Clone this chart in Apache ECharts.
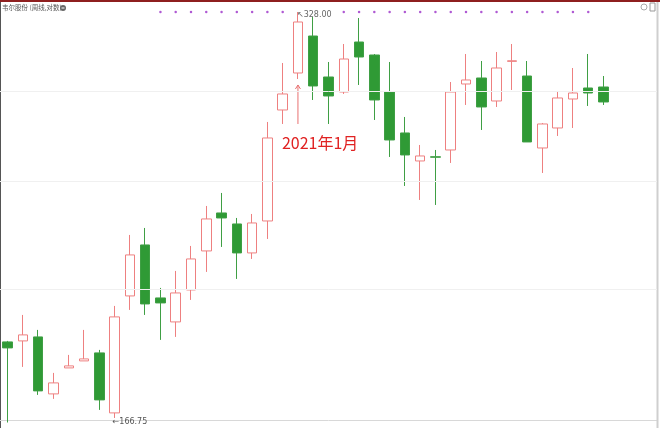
<!DOCTYPE html>
<html>
<head>
<meta charset="utf-8">
<script src="https://cdn.jsdelivr.net/npm/echarts@6/dist/echarts.min.js"></script>
<style>
html,body{margin:0;padding:0;background:#fff;}
#c{width:660px;height:428px;}
</style>
</head>
<body>
<div id="c"></div>
<script>
// ---- data (weekly candles, log scale) ----
const categories = ['2020-08-28','2020-09-04','2020-09-11','2020-09-18','2020-09-25','2020-10-02','2020-10-09','2020-10-16','2020-10-23','2020-10-30',
  '2020-11-06','2020-11-13','2020-11-20','2020-11-27','2020-12-04','2020-12-11','2020-12-18','2020-12-25','2021-01-01','2021-01-08',
  '2021-01-15','2021-01-22','2021-01-29','2021-02-05','2021-02-12','2021-02-19','2021-02-26','2021-03-05','2021-03-12','2021-03-19',
  '2021-03-26','2021-04-02','2021-04-09','2021-04-16','2021-04-23','2021-04-30','2021-05-07','2021-05-14','2021-05-21','2021-05-28','','',''];
const openPrices  = [189.29,189.60,190.87,173.58,181.26,183.39,185.85,168.17,204.36,222.48,
  203.68,195.70,206.41,220.27,234.66,230.40,219.54,231.55,278.59,296.30,
  315.14,294.33,287.07,312.00,305.32,287.07,268.12,255.90,257.70,260.63,
  290.92,293.84,282.80,302.10,294.82,261.50,270.36,283.74,288.99,289.47];
const closePrices = [187.40,191.51,174.45,176.79,181.87,184.00,171.85,197.34,218.81,201.65,
  201.99,205.38,217.35,232.33,232.71,219.54,230.78,265.89,286.12,322.58,
  289.96,285.17,303.29,304.30,283.27,265.01,258.47,258.04,257.50,287.07,
  292.87,279.99,298.78,302.40,264.13,272.17,284.22,286.59,286.59,282.33];
const lowPrices   = [165.50,181.56,173.29,172.14,181.26,183.39,169.01,166.75,199.65,197.99,
  189.92,190.87,203.00,212.70,221.74,210.23,217.35,224.71,272.17,293.35,
  283.27,272.17,286.12,290.44,273.99,257.61,245.46,239.80,237.81,255.05,
  280.92,269.46,279.99,288.03,264.13,250.83,266.78,270.36,280.46,280.92];
const highPrices  = [189.60,197.99,193.11,179.76,185.23,193.11,186.78,200.98,226.22,228.87,
  207.10,213.05,222.11,237.41,242.61,232.71,234.27,273.08,301.28,328.00,
  325.28,301.78,310.97,324.74,305.80,301.78,275.36,262.81,260.63,291.89,
  305.83,302.28,306.85,310.97,302.28,272.62,287.55,298.78,305.83,294.82];
const signalIdx = [10,11,12,13,14,15,16,17,18,22,23,24,25,26,27,28,29,30,31,32,33,34,35,36,37,38];
const gridValues = [287.5, 247.2, 206.8];
const maxMark = {index: 19, value: 328.00, text: '328.00'};
const minMark = {index: 7, value: 166.75, text: '166.75'};
const noteMark = {index: 19, text: '2021年1月'};
const yMin = 166.19, yMax = 328.0;

const candleData = openPrices.map((o, i) => [o, closePrices[i], lowPrices[i], highPrices[i]]);

const chart = echarts.init(document.getElementById('c'));
const option = {
  animation: false,
  backgroundColor: '#fff',
  grid: {left: 0, right: 3, top: 12, bottom: 8},
  xAxis: {
    type: 'category', data: categories, boundaryGap: true,
    axisLine: {show: false}, axisTick: {show: false}, axisLabel: {show: false}, splitLine: {show: false}
  },
  yAxis: {
    type: 'log', logBase: 10, min: yMin, max: yMax, scale: true,
    axisLine: {show: false}, axisTick: {show: false}, axisLabel: {show: false}, splitLine: {show: false}
  },
  series: [
    {
      type: 'candlestick', data: candleData, barWidth: 10, clip: true,
      itemStyle: {color: '#ffffff', color0: '#2f9a35', borderColor: '#ee8080', borderColor0: '#3f9f44', borderWidth: 1},
      markLine: {
        silent: true, symbol: 'none', label: {show: false},
        lineStyle: {color: '#f0f0f0', type: 'solid', width: 1},
        data: gridValues.map(v => ({yAxis: v}))
      }
    },
    {
      type: 'scatter', data: signalIdx.map(i => [i, yMax]), symbol: 'circle', symbolSize: 2.5, clip: false,
      itemStyle: {color: '#9b30c8'}, silent: true
    }
  ]
};
chart.setOption(option);

const pMax = chart.convertToPixel({gridIndex: 0}, [maxMark.index, maxMark.value]);
const pMin = chart.convertToPixel({gridIndex: 0}, [minMark.index, minMark.value]);
const pNoteLow = chart.convertToPixel({gridIndex: 0}, [noteMark.index, lowPrices[noteMark.index]]);

chart.setOption({
  graphic: [
    {type: 'rect', shape: {x: 0, y: 0, width: 660, height: 2}, style: {fill: '#8e1f1f'}},
    {type: 'line', shape: {x1: 0.5, y1: 2, x2: 0.5, y2: 428}, style: {stroke: '#555', lineWidth: 1}},
    {type: 'line', shape: {x1: 0, y1: 420.5, x2: 657, y2: 420.5}, style: {stroke: '#d8d8d8', lineWidth: 1}},
    {type: 'line', shape: {x1: 657.5, y1: 2, x2: 657.5, y2: 428}, style: {stroke: '#cfcfcf', lineWidth: 2}},
    {type: 'text', left: 2, top: 4, style: {text: '韦尔股份 (周线,对数)', font: '6.5px "Noto Sans CJK SC", sans-serif', fill: '#555'}},
    {type: 'circle', shape: {cx: 63, cy: 8, r: 3}, style: {fill: '#666'}},
    {type: 'line', shape: {x1: 61.5, y1: 8, x2: 64.5, y2: 8}, style: {stroke: '#fff', lineWidth: 1}},
    {type: 'circle', shape: {cx: 644, cy: 7, r: 3}, style: {fill: 'none', stroke: '#aaa', lineWidth: 1}},
    {type: 'rect', shape: {x: 650, y: 3, width: 5, height: 8}, style: {fill: 'none', stroke: '#999', lineWidth: 1}},
    {type: 'text', x: pMax[0] - 1, y: pMax[1] + 3, style: {text: '↖' + maxMark.text, font: '8px "DejaVu Sans", sans-serif', fill: '#666', textVerticalAlign: 'middle'}},
    {type: 'text', x: pMin[0] - 2, y: pMin[1] + 4, style: {text: '←' + minMark.text, font: '8px "DejaVu Sans", sans-serif', fill: '#555', textVerticalAlign: 'middle'}},
    {type: 'line', shape: {x1: pNoteLow[0], y1: pNoteLow[1] + 6, x2: pNoteLow[0], y2: pNoteLow[1] + 45}, style: {stroke: '#e87070', lineWidth: 1}},
    {type: 'polyline', shape: {points: [[pNoteLow[0] - 2.5, pNoteLow[1] + 10], [pNoteLow[0], pNoteLow[1] + 6], [pNoteLow[0] + 2.5, pNoteLow[1] + 10]]}, style: {stroke: '#e87070', lineWidth: 1, fill: 'none'}},
    {type: 'text', x: pNoteLow[0] - 16, y: pNoteLow[1] + 64, style: {text: noteMark.text, font: '16px "Noto Sans CJK SC", sans-serif', fill: '#e02222', textVerticalAlign: 'middle'}}
  ]
});
</script>
</body>
</html>
